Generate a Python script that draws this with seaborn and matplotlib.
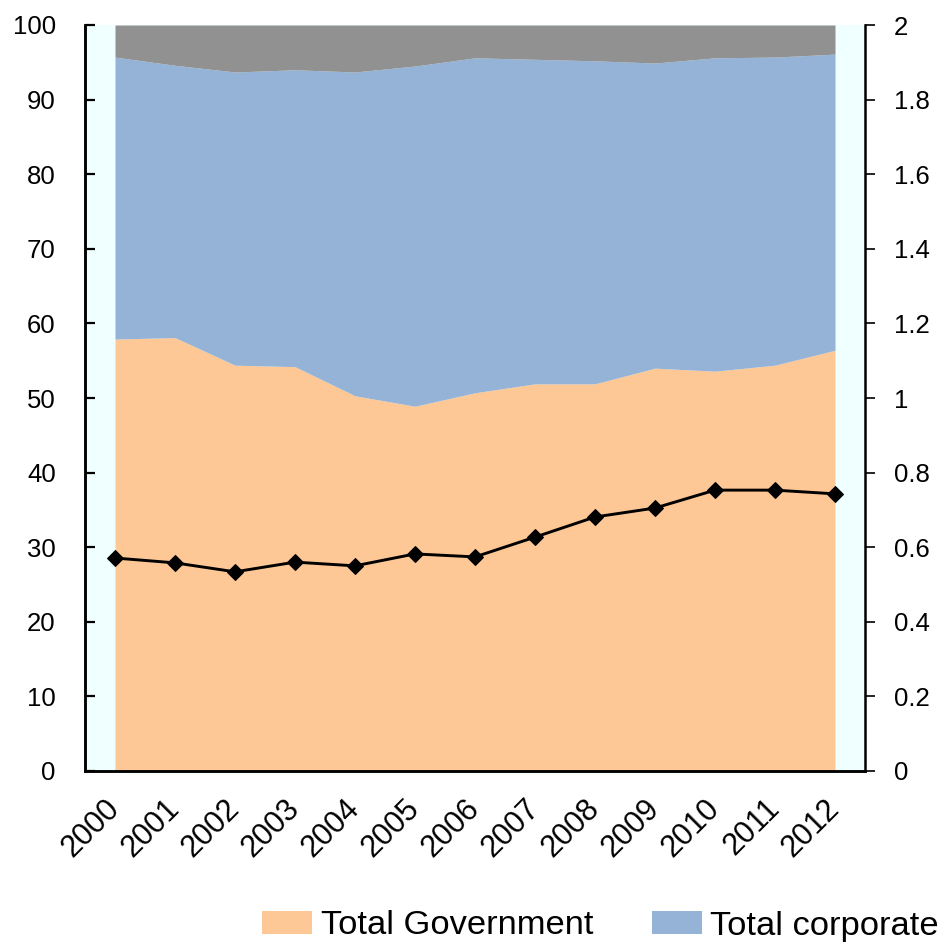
import numpy as np
import pandas as pd
import matplotlib
matplotlib.use("Agg")
import matplotlib.pyplot as plt
import seaborn as sns
from matplotlib.patches import Patch

# ---- data ----
years = [str(y) for y in range(2000, 2013)]
government = [57.9, 58.1, 54.4, 54.2, 50.3, 48.9, 50.7, 51.9, 51.9, 54.0, 53.6, 54.4, 56.4]
corporate = [37.8, 36.5, 39.3, 39.8, 43.4, 45.6, 44.9, 43.5, 43.3, 40.9, 42.0, 41.3, 39.7]
other = [100 - g - c for g, c in zip(government, corporate)]
ratio = [0.571, 0.558, 0.534, 0.560, 0.550, 0.582, 0.574, 0.627, 0.681, 0.705, 0.753, 0.753, 0.743]
left_ticks = list(range(0, 101, 10))
right_ticks = [0, 0.2, 0.4, 0.6, 0.8, 1, 1.2, 1.4, 1.6, 1.8, 2]
right_labels = ["0", "0.2", "0.4", "0.6", "0.8", "1", "1.2", "1.4", "1.6", "1.8", "2"]
legend_labels = ["Total Government", "Total corporate"]

# ---- style ----
sns.set_theme(style="white")
plt.rcParams["font.family"] = ["Liberation Sans", "DejaVu Sans"]
plt.rcParams["text.color"] = "black"

c_gov = "#FEC896"
c_corp = "#95B3D7"
c_other = "#919191"
bg = "#F0FFFF"

fig = plt.figure(figsize=(9.53, 9.49), dpi=100)
ax = fig.add_axes([85 / 953, 1 - 771 / 949, 780 / 953, 746 / 949])
ax.set_facecolor(bg)

x = np.arange(len(years))
df = pd.DataFrame({"x": x, "ratio": ratio})

ax.stackplot(x, government, corporate, other, colors=[c_gov, c_corp, c_other], linewidth=0)
ax.set_xlim(-0.5, len(years) - 0.5)
ax.set_ylim(0, 100)
ax.set_yticks(left_ticks)
ax.set_xticks(x)
ax.set_xticklabels(years)
ax.set_xticks(np.arange(0.5, len(years) - 1, 1), minor=True)

ax2 = ax.twinx()
sns.lineplot(data=df, x="x", y="ratio", ax=ax2, color="black", linewidth=2.1,
             marker="D", markersize=8, markeredgecolor="black", markerfacecolor="black")
ax2.set_ylim(0, 2)
ax2.set_yticks(right_ticks)
ax2.set_yticklabels(right_labels)
ax2.set_xlim(-0.5, len(years) - 0.5)
ax2.set_xlabel("")
ax2.set_ylabel("")
ax.set_xlabel("")
ax.set_ylabel("")

for a in (ax, ax2):
    for s in a.spines.values():
        s.set_color("black")
        s.set_linewidth(1.8)
    a.spines["top"].set_visible(False)

ax.spines["right"].set_visible(False)

ax.tick_params(axis="y", which="major", direction="in", length=7, width=1.6,
               left=True, right=False, labelsize=18.5, pad=21, colors="black")
ax.tick_params(axis="x", which="major", length=0, labelsize=22, pad=24, colors="black")
ax.tick_params(axis="x", which="minor", direction="in", length=8, width=1.6, bottom=True)
ax2.tick_params(axis="y", direction="out", length=7, width=1.2, right=True,
                labelsize=18.5, pad=14, colors="black")

for lbl in ax.get_xticklabels():
    lbl.set_rotation(45)
    lbl.set_ha("right")
    lbl.set_va("center")
    lbl.set_rotation_mode("anchor")

handles = [Patch(facecolor=c_gov, edgecolor="none"), Patch(facecolor=c_corp, edgecolor="none")]
fig.legend(handles, legend_labels, loc="center left",
           bbox_to_anchor=(262 / 953, 1 - 926 / 949), bbox_transform=fig.transFigure,
           ncol=2, frameon=False, fontsize=24.8, borderpad=0, borderaxespad=0,
           handlelength=1.45, handleheight=0.65, handletextpad=0.25, columnspacing=1.7,
           labelcolor="black")

fig.savefig("out.png", dpi=100)
